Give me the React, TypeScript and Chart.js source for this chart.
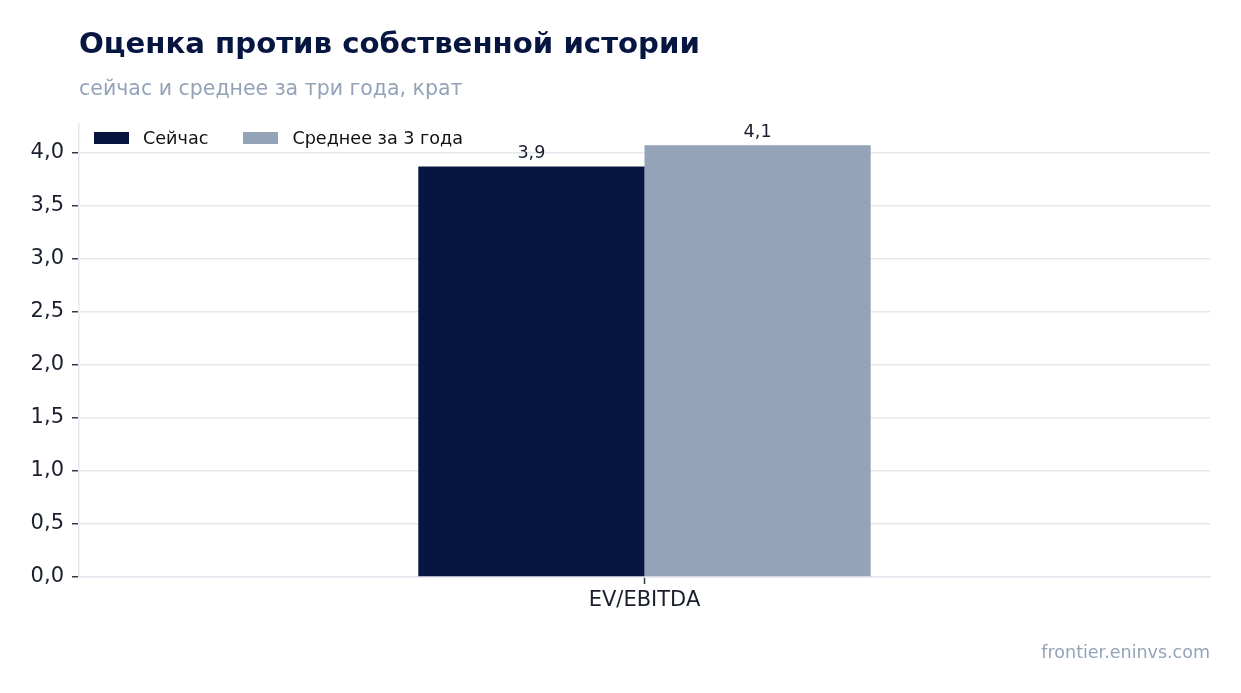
import { useEffect, useRef } from 'react';
import { Chart, registerables, Plugin } from 'chart.js';

Chart.register(...registerables);

const categories = ['EV/EBITDA'];
const seriesNames = ['Сейчас', 'Среднее за 3 года'];
const currentValues = [3.87];
const averageValues = [4.07];
const seriesColors = ['#061640', '#94a3b8'];

const FONT = "'DejaVu Sans', sans-serif";
const fmt = (v: number, digits = 1) => v.toFixed(digits).replace('.', ',');

const valueLabels: Plugin<'bar'> = {
  id: 'valueLabels',
  afterDatasetsDraw(chart) {
    const ctx = chart.ctx;
    ctx.save();
    ctx.font = `17.6px ${FONT}`;
    ctx.fillStyle = '#1a1f2e';
    ctx.textAlign = 'center';
    ctx.textBaseline = 'alphabetic';
    chart.data.datasets.forEach((ds, i) => {
      chart.getDatasetMeta(i).data.forEach((el, j) => {
        const v = ds.data[j] as number;
        ctx.fillText(fmt(v), el.x, el.y - 8);
      });
    });
    ctx.restore();
  },
};

export default function App() {
  const chartRef = useRef<HTMLCanvasElement | null>(null);

  useEffect(() => {
    document.body.style.margin = '0';
    if (!chartRef.current) return;
    const ctx = chartRef.current.getContext('2d');
    if (!ctx) return;

    const chart = new Chart(ctx, {
      type: 'bar',
      data: {
        labels: categories,
        datasets: [
          { label: seriesNames[0], data: currentValues, backgroundColor: seriesColors[0] },
          { label: seriesNames[1], data: averageValues, backgroundColor: seriesColors[1] },
        ],
      },
      plugins: [valueLabels],
      options: {
        responsive: false,
        animation: false,
        layout: { padding: { top: 124, right: 31, left: 0, bottom: 0 } },
        datasets: { bar: { categoryPercentage: 0.4, barPercentage: 1 } },
        plugins: {
          legend: { display: false },
          tooltip: { enabled: false },
        },
        scales: {
          x: {
            afterFit: (scale) => {
              scale.height = 116;
            },
            border: { color: '#e5e8ef', width: 1.5 },
            grid: { offset: false, drawOnChartArea: false, tickLength: 7, tickColor: '#333a48', tickWidth: 1.5 },
            ticks: { font: { family: FONT, size: 21 }, color: '#1a1f2e', padding: 4 },
          },
          y: {
            min: 0,
            max: 4.27,
            afterFit: (scale) => {
              scale.width = 79;
            },
            afterBuildTicks: (scale) => {
              scale.ticks = scale.ticks.filter(
                (t) => Math.abs(t.value * 2 - Math.round(t.value * 2)) < 1e-6
              );
            },
            border: { color: '#e5e8ef', width: 1.5 },
            grid: { color: '#e5e8ef', lineWidth: 1.5, tickLength: 7, tickColor: '#333a48', tickWidth: 1.5 },
            ticks: {
              stepSize: 0.5,
              padding: 8,
              font: { family: FONT, size: 21 },
              color: '#1a1f2e',
              callback: (v) => fmt(Number(v)),
            },
          },
        },
      },
    });

    return () => {
      chart.destroy();
    };
  }, []);

  return (
    <div style={{ position: 'relative', width: 1241, height: 693, fontFamily: FONT, background: '#fff' }}>
      <canvas ref={chartRef} width={1241} height={693} style={{ position: 'absolute', left: 0, top: 0 }} />
      <div style={{ position: 'absolute', left: 79, top: 26, fontSize: 29.2, fontWeight: 'bold', color: '#061640', whiteSpace: 'nowrap' }}>
        Оценка против собственной истории
      </div>
      <div style={{ position: 'absolute', left: 79, top: 76, fontSize: 20.5, color: '#94a3b8', whiteSpace: 'nowrap' }}>
        сейчас и среднее за три года, крат
      </div>
      <div style={{ position: 'absolute', left: 94, top: 128, display: 'flex', alignItems: 'center', fontSize: 17.6, color: '#111' }}>
        {seriesNames.map((name, i) => (
          <div key={name} style={{ display: 'flex', alignItems: 'center', marginRight: 35 }}>
            <span style={{ width: 35, height: 12, background: seriesColors[i], marginRight: 14, display: 'inline-block' }} />
            <span>{name}</span>
          </div>
        ))}
      </div>
      <div style={{ position: 'absolute', right: 31, top: 642, fontSize: 17.5, color: '#94a3b8' }}>
        frontier.eninvs.com
      </div>
    </div>
  );
}
